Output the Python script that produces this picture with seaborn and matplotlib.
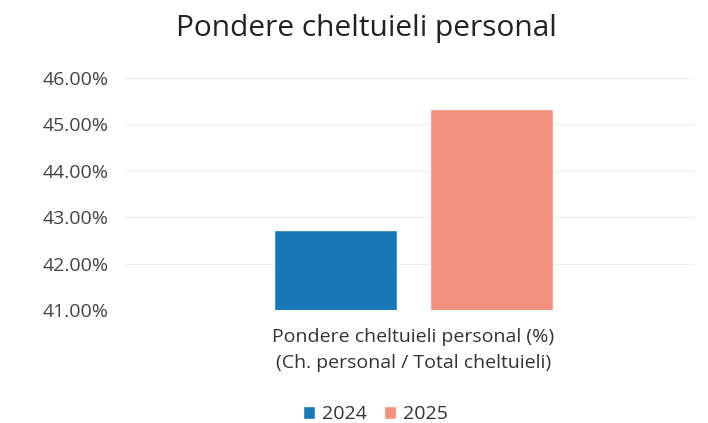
import matplotlib
matplotlib.use("Agg")
import matplotlib.pyplot as plt
import seaborn as sns
import pandas as pd
from matplotlib.ticker import FuncFormatter

# data
categories = ["Pondere cheltuieli personal (%)\n(Ch. personal / Total cheltuieli)"]
years = ["2024", "2025"]
values = [42.73, 45.32]
colors = ["#1a78b6", "#f2917c"]

df = pd.DataFrame({
    "categorie": categories * len(years),
    "an": years,
    "pondere": values,
})

sns.set_theme(style="white")
plt.rcParams["font.family"] = ["Open Sans", "DejaVu Sans"]

fig = plt.figure(figsize=(7.08, 4.23), dpi=100)
ax = fig.add_axes([0.177, 0.267, 0.803, 0.549])

sns.barplot(data=df, x="categorie", y="pondere", hue="an",
            palette=colors, saturation=1, gap=0.21, width=0.8, ax=ax,
            legend=True)

ax.set_ylim(41, 46)
ax.set_xlim(-0.74, 0.72)
ax.set_yticks([41, 42, 43, 44, 45, 46])
ax.yaxis.set_major_formatter(FuncFormatter(lambda v, p: f"{v:.2f}%"))
ax.grid(axis="y", color="#ececec", linewidth=0.8)
ax.set_axisbelow(True)
ax.tick_params(axis="y", labelsize=14, colors="#444444", length=0, pad=12)
ax.tick_params(axis="x", labelsize=14, colors="#333333", length=0, pad=13)
for lbl in ax.get_xticklabels():
    lbl.set_linespacing(1.55)
ax.set_xlabel("")
ax.set_ylabel("")
sns.despine(ax=ax, left=True, bottom=True)

fig.suptitle("Pondere cheltuieli personal", x=0.518, y=0.968,
             fontsize=21.5, color="#222222")

ax.legend(loc="upper center", bbox_to_anchor=(0.44, -0.335), ncol=2,
          frameon=False, fontsize=14, handlelength=0.6, handleheight=0.6,
          handletextpad=0.35, columnspacing=0.9, labelcolor="#333333")

fig.savefig("out.png", dpi=100)
